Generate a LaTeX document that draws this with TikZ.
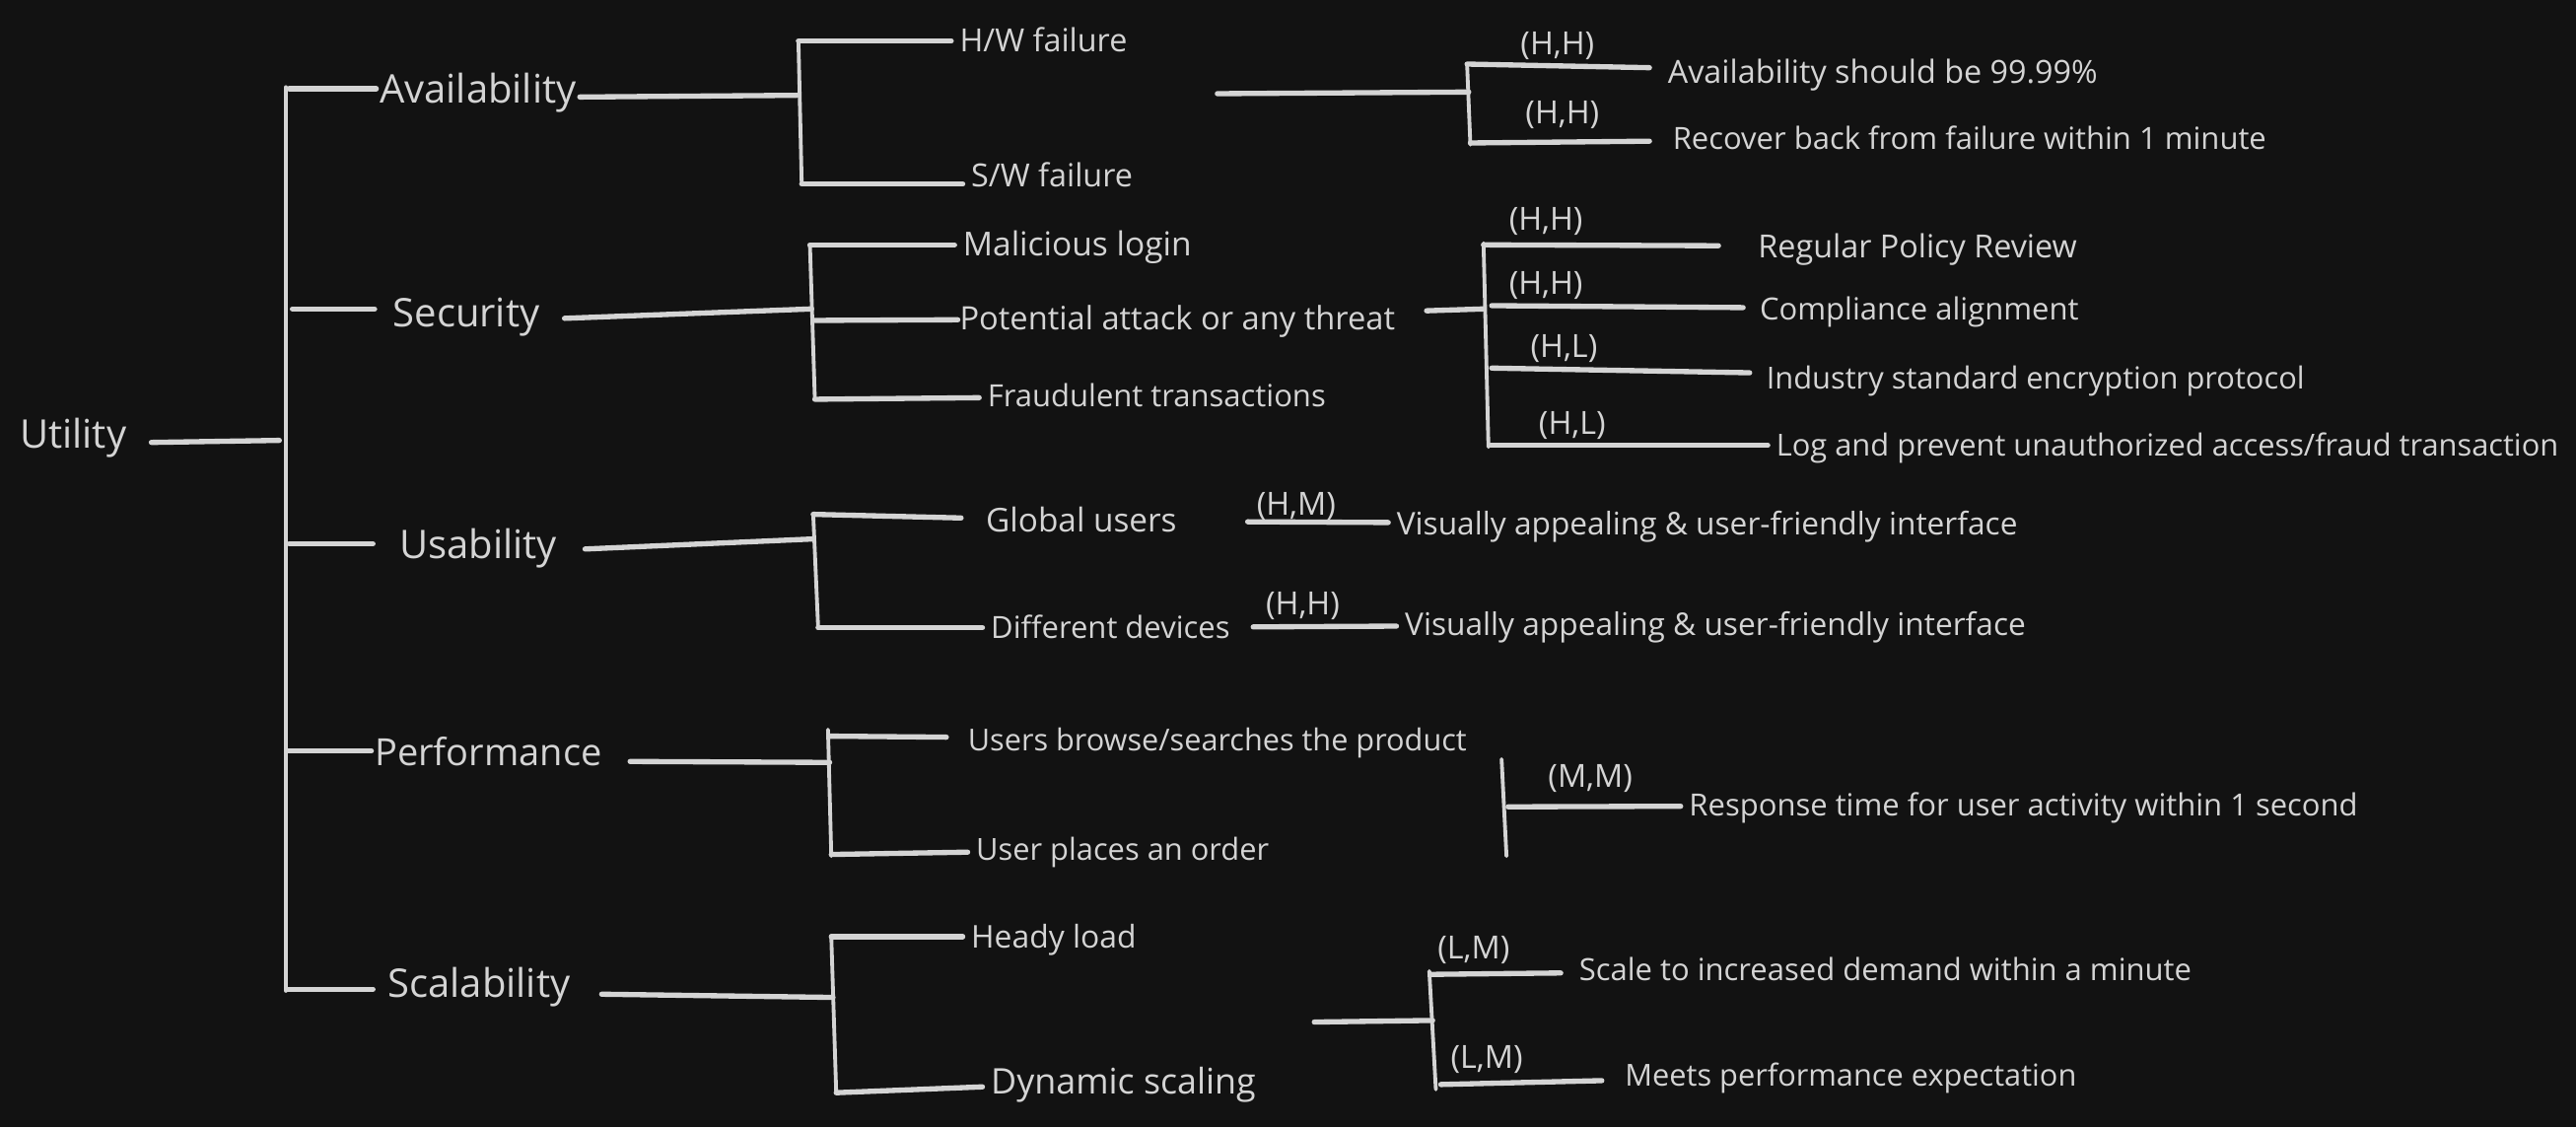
\documentclass[tikz,border=0pt]{standalone}
\usepackage{fontspec}
\setmainfont{Open Sans}
\usetikzlibrary{calc}
\definecolor{bg}{HTML}{121212}
\definecolor{ink}{HTML}{D4D4D4}
\tikzset{
  pts/.style={font=\fontsize{#1}{#1}\selectfont},
  quality/.style={pts=24, text=ink, inner xsep=2pt, inner ysep=0pt,
    text height=17pt, text depth=11pt, anchor=base west},
  scenario/.style={pts=18.6, text=ink, inner xsep=5pt, inner ysep=0pt,
    text height=13.6pt, text depth=0pt, anchor=west},
  rank/.style={pts=19.4, text=ink, inner sep=0pt},
  link/.style={draw=ink, line width=3.2pt, line cap=round},
  bar/.style={draw=ink, line width=2.3pt, line cap=round},
}
\begin{document}
\begin{tikzpicture}[x=1pt,y=-1pt]
\fill[bg] (0,0) rectangle (1568,686);
\useasboundingbox (0,0) rectangle (1568,686);
% bracket points
\foreach \n/\x/\y in {root-t/174/53,root-b/174/603,root-u/170/268,root-1/176/54,root-2/178/188,
  root-3/176/331,root-4/175/457,root-5/175/602,
  av-t/486/25,av-b/488/112,av-m/485/58,
  se-t/493/149,se-b/496/243,se-m/494/188,se-2/496/195,
  us-t/495/313,us-b/498/382,us-m/495/328,
  pe-t/504/444,pe-b/506/521,pe-m/505/464,pe-1/505/448,pe-2/506/520,
  sc-t/506/570,sc-b/509/665,sc-m/507/607,
  ra-in/741/57,ra-t/893/39,ra-b/895/88,ra-m/894/56,ra-2/895/87,
  rs-t/903/148,rs-b/906/272,rs-m/903/188,rs-1/903/149,rs-2/908/186,rs-3/908/224,rs-4/907/271,
  rp-t/914/462,rp-b/917/521,rp-m/918/491,
  rc-in/800/622,rc-t/870/591,rc-b/874/663,rc-m/872/621,rc-1/871/593,rc-2/877/660} {
  \coordinate (\n) at (\x,\y);
}
% quality attributes
\node[quality] (utility) at (10,273) {Utility};
\node[quality] (avail) at (229,62.5) {Availability};
\node[quality] (security) at (237,199) {Security};
\node[quality] (usability) at (241,340) {Usability};
\node[quality, pts=22.8] (performance) at (226,466) {Performance};
\node[quality] (scalability) at (234,607) {Scalability};
% scenarios
\node[scenario, pts=19.4] (hw) at (579,25) {H/W failure};
\node[scenario, pts=19.4] (sw) at (586,107) {S/W failure};
\node[scenario, pts=20.1] (malicious) at (581,149) {Malicious login};
\node[scenario, pts=19.6] (threat) at (579,194) {Potential attack or any threat};
\node[scenario] (fraud) at (596,241) {Fraudulent transactions};
\node[scenario, pts=20] (global) at (595,317) {Global users};
\node[scenario] (devices) at (598,382) {Different devices};
\node[scenario, pts=18.4] (browse) at (584,450) {Users browse/searches the product};
\node[scenario, pts=18.5] (order) at (589,517) {User places an order};
\node[scenario, pts=19.1] (heavy) at (586,570) {Heady load};
\node[scenario, pts=21.5, text height=15.2pt] (dynamic) at (598,658) {Dynamic scaling};
% requirements
\node[scenario, pts=19.4] (av99) at (1010,44) {Availability should be 99.99\%};
\node[scenario] (recover) at (1013,84) {Recover back from failure within 1 minute};
\node[scenario, pts=19.4] (policy) at (1065,150) {Regular Policy Review};
\node[scenario] (compliance) at (1066,188) {Compliance alignment};
\node[scenario, pts=18.5] (encrypt) at (1070,230) {Industry standard encryption protocol};
\node[scenario, pts=18.5] (logfraud) at (1076,271) {Log and prevent unauthorized access/fraud transaction};
\node[scenario, pts=19] (ui1) at (845,319) {Visually appealing \& user-friendly interface};
\node[scenario, pts=19] (ui2) at (850,380) {Visually appealing \& user-friendly interface};
\node[scenario] (response) at (1023,490) {Response time for user activity within 1 second};
\node[scenario] (demand) at (956,590) {Scale to increased demand within a minute};
\node[scenario, pts=18.45] (meets) at (984,654) {Meets performance expectation};
% (importance,difficulty)
\foreach \x/\y/\t [count=\i] in {948/28/{(H,H)},951/70/{(H,H)},941/135/{(H,H)},941/174/{(H,H)},
  952/212/{(H,L)},957/259/{(H,L)},789/308/{(H,M)},793/369/{(H,H)},968/474/{(M,M)},
  897/578/{(L,M)},905/645/{(L,M)}} {
  \node[rank] (rank\i) at (\x,\y) {\t};
}
% root
\draw[bar] (root-t) -- (root-b);
\draw[link, shorten <=13pt] (utility) -- (root-u);
\draw[link] (root-1) -- (avail.west |- root-1);
\draw[link, shorten >=9pt] (root-2) -- (security.west |- root-2);
\draw[link, shorten >=14pt] (root-3) -- (usability.west |- root-3);
\draw[link] (root-4) -- (performance.west |- root-4);
\draw[link, shorten >=7pt] (root-5) -- (scalability.west |- root-5);
% availability
\draw[link] (avail) -- (av-m);
\draw[bar] (av-t) -- (av-b);
\draw[link] (av-t) -- (hw);
\draw[link] (av-b) -- (sw.west |- av-b);
\draw[link] (ra-in) -- (ra-m);
\draw[bar] (ra-t) -- (ra-b);
\draw[link, shorten >=6pt] (ra-t) -- (av99);
\draw[link, shorten >=9pt] (ra-2) -- (recover);
% security
\draw[link, shorten <=13pt] (security) -- (se-m);
\draw[bar] (se-t) -- (se-b);
\draw[link] (se-t) -- (malicious);
\draw[link, shorten >=-4pt] (se-2) -- (threat);
\draw[link] (se-b) -- (fraud);
\draw[link, shorten <=14pt] (threat) -- (rs-m);
\draw[bar] (rs-t) -- (rs-b);
\draw[link, shorten >=19pt] (rs-1) -- (policy);
\draw[link, shorten >=5pt] (rs-2) -- (compliance);
\draw[link, shorten >=5pt] (rs-3) -- (encrypt);
\draw[link] (rs-4) -- (logfraud);
% usability
\draw[link, shorten <=15pt] (usability) -- (us-m);
\draw[bar] (us-t) -- (us-b);
\draw[link, shorten >=10pt] (us-t) -- (global);
\draw[link] (us-b) -- (devices);
\draw[link, shorten <=38pt] (global) -- (ui1);
\draw[link, shorten <=9pt] (devices) -- (ui2);
% performance
\draw[link, shorten <=15pt] (performance) -- (pe-m);
\draw[bar] (pe-t) -- (pe-b);
\draw[link, shorten >=8pt] (pe-1) -- (browse);
\draw[link] (pe-2) -- (order);
\draw[bar] (rp-t) -- (rp-b);
\draw[link] (rp-m) -- (response);
% scalability
\draw[link, shorten <=17pt] (scalability) -- (sc-m);
\draw[bar] (sc-t) -- (sc-b);
\draw[link] (sc-t) -- (heavy);
\draw[link] (sc-b) -- (dynamic);
\draw[link] (rc-in) -- (rc-m);
\draw[bar] (rc-t) -- (rc-b);
\draw[link, shorten >=6pt] (rc-1) -- (demand);
\draw[link, shorten >=9pt] (rc-2) -- (meets);
\end{tikzpicture}
\end{document}
